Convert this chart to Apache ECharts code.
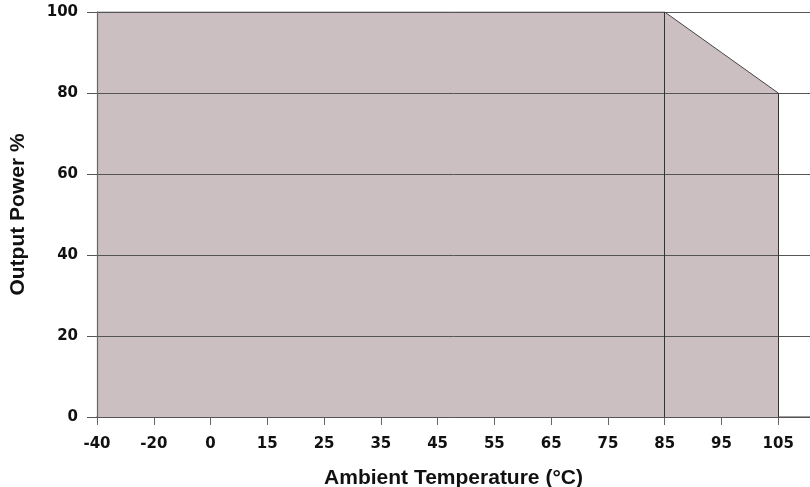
<!DOCTYPE html>
<html>
<head>
<meta charset="utf-8">
<script src="https://cdn.jsdelivr.net/npm/echarts@6/dist/echarts.min.js"></script>
<style>
  html, body { margin: 0; padding: 0; background: #fff; }
  #chart { width: 810px; height: 487px; }
</style>
</head>
<body>
<div id="chart"></div>
<script>
// ambient temperature categories (evenly spaced on the axis)
var temps = [-40, -20, 0, 15, 25, 35, 45, 55, 65, 75, 85, 95, 105];
// output power % at each temperature
var power = [100, 100, 100, 100, 100, 100, 100, 100, 100, 100, 100, 90, 80];
var yTicks = [0, 20, 40, 60, 80, 100];
// derating knee at 85 °C
var kneeTemp = 85;

var titleFont = '"Liberation Sans", Arial, Helvetica, sans-serif';
var tickFont = '"DejaVu Sans", Verdana, sans-serif';
var kneeIdx = temps.indexOf(kneeTemp);
var lastIdx = temps.length - 1;

var chart = echarts.init(document.getElementById("chart"));
var option = {
  animation: false,
  grid: { left: 97, right: 0, top: 12, bottom: 70, containLabel: false, outerBoundsMode: "none" },
  xAxis: {
    type: "value",
    min: 0,
    max: 12.56,
    interval: 1,
    name: "Ambient Temperature (°C)",
    nameLocation: "middle",
    nameGap: 51,
    nameTextStyle: { fontFamily: titleFont, fontWeight: "bold", fontSize: 21, color: "#111" },
    axisLine: { lineStyle: { color: "#808080", width: 1.6 } },
    axisTick: { length: 8, lineStyle: { color: "#666" } },
    axisLabel: {
      margin: 20,
      fontFamily: tickFont,
      fontWeight: "bold",
      fontSize: 15,
      color: "#111",
      showMaxLabel: false,
      formatter: function (v) {
        return Number.isInteger(v) && temps[v] !== undefined ? String(temps[v]) : "";
      }
    },
    splitLine: { show: false }
  },
  yAxis: {
    type: "value",
    min: yTicks[0],
    max: yTicks[yTicks.length - 1],
    interval: yTicks[1] - yTicks[0],
    z: 5,
    name: "Output Power %",
    nameLocation: "middle",
    nameGap: 68,
    nameTextStyle: { fontFamily: titleFont, fontWeight: "bold", fontSize: 21, color: "#111" },
    axisLine: { show: true, lineStyle: { color: "#666", width: 1.2 } },
    axisTick: { show: true, length: 10, lineStyle: { color: "#555" } },
    axisLabel: {
      margin: 19,
      fontFamily: tickFont,
      fontWeight: "bold",
      fontSize: 15,
      color: "#111"
    },
    splitLine: { show: true, lineStyle: { color: "#555", width: 1 } }
  },
  series: [
    {
      type: "line",
      data: power.map(function (p, i) { return [i, p]; }),
      symbol: "none",
      z: 3,
      lineStyle: { color: "#444", width: 1 },
      areaStyle: { color: "#cbbfc2", opacity: 1 },
      markLine: {
        silent: true,
        symbol: "none",
        label: { show: false },
        lineStyle: { color: "#333", width: 1, type: "solid" },
        data: [
          [{ coord: [kneeIdx, 0] }, { coord: [kneeIdx, power[kneeIdx]] }],
          [{ coord: [lastIdx, 0] }, { coord: [lastIdx, power[lastIdx]] }]
        ]
      }
    }
  ]
};
chart.setOption(option);
</script>
</body>
</html>
